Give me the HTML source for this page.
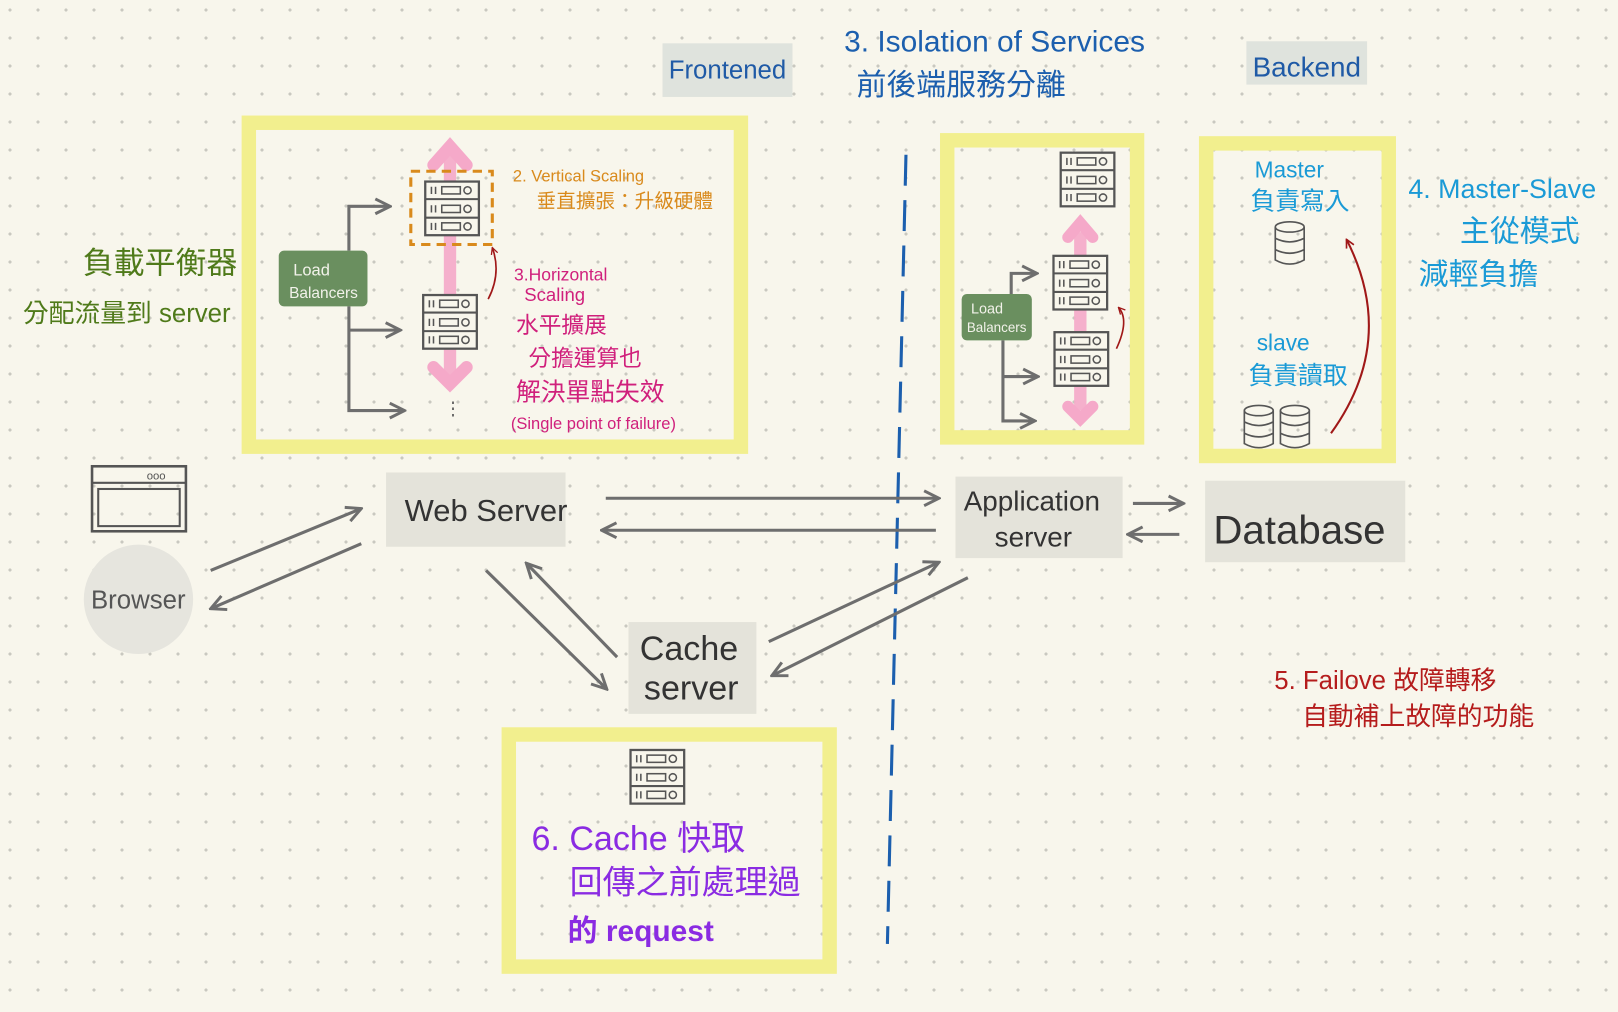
<!DOCTYPE html>
<html><head><meta charset="utf-8"><style>
html,body{margin:0;padding:0}
body{width:1618px;height:1012px;overflow:hidden;background-color:#f8f6ec;
background-image:radial-gradient(circle at 10px 10px,#c9c8c0 1.4px,transparent 1.8px);background-size:28px 28px;}
svg{position:absolute;left:0;top:0}
text{font-family:"Liberation Sans","Noto Sans CJK TC",sans-serif}
</style></head><body>
<svg width="1618" height="1012" viewBox="0 0 1568 981">
<defs>
<marker id="ah" viewBox="0 0 10 10" refX="9" refY="5" markerWidth="6" markerHeight="6" orient="auto"><path d="M1,1 L9,5 L1,9" fill="none" stroke="#6e6e6e" stroke-width="1.6"/></marker>
<marker id="ar" viewBox="0 0 10 10" refX="9" refY="5" markerWidth="5" markerHeight="5" orient="auto"><path d="M1,1 L9,5 L1,9" fill="none" stroke="#a01818" stroke-width="1.6"/></marker>
<g id="srv"><rect x="0" y="0" width="52" height="52" fill="#f8f6ec" stroke="#555" stroke-width="2.2"/><line x1="0" y1="17" x2="52" y2="17" stroke="#555" stroke-width="2"/><line x1="0" y1="35" x2="52" y2="35" stroke="#555" stroke-width="2"/>
<g stroke="#555" stroke-width="1.5" fill="none"><path d="M6 5v7M10 5v7M6 23v7M10 23v7M6 40v7M10 40v7"/><rect x="16" y="5" width="18" height="7"/><rect x="16" y="23" width="18" height="7"/><rect x="16" y="40" width="18" height="7"/><circle cx="41" cy="8.5" r="3.5"/><circle cx="41" cy="26.5" r="3.5"/><circle cx="41" cy="43.5" r="3.5"/></g></g>
<g id="db" fill="none" stroke="#555" stroke-width="1.6"><ellipse cx="15" cy="5" rx="14" ry="5"/><path d="M1 5v32q14 8 28 0V5M1 16q14 7 28 0M1 27q14 7 28 0"/></g>
</defs>

<rect x="642" y="42" width="126" height="52" fill="#dfe3dd"/>
<text x="648" y="76" font-size="25" fill="#1f5aa6">Frontened</text>
<rect x="1208" y="40" width="117" height="42" fill="#dfe3dd"/>
<text x="1214" y="74" font-size="27" fill="#1f5aa6">Backend</text>
<text x="818" y="50" font-size="29" fill="#1c5fae">3. Isolation of Services</text>
<text x="830" y="92" font-size="29" fill="#1c5fae">前後端服務分離</text>

<g fill="none" stroke="#f2ef8e" stroke-width="14">
<rect x="241" y="119" width="477" height="314"/>
<rect x="918" y="136" width="184" height="288"/>
<rect x="1169" y="139" width="177" height="303"/>
<rect x="493" y="712" width="311" height="225"/>
</g>

<path d="M436 150V365" stroke="#f5a9c9" stroke-width="12" opacity="0.9"/>
<path d="M420 160L436 142L452 160M420 356L436 372L452 356" stroke="#f5a9c9" stroke-width="12" fill="none" stroke-linecap="round"/>
<rect x="398" y="166" width="79" height="71" fill="none" stroke="#d98a1c" stroke-width="3" stroke-dasharray="9 6"/>
<use href="#srv" x="412" y="176"/>
<use href="#srv" x="410" y="286"/>
<text x="430" y="402" font-size="18" fill="#666">⋮</text>
<path d="M473 290Q486 265 477 240" stroke="#a01818" stroke-width="1.6" fill="none" marker-end="url(#ar)"/>
<rect x="270" y="243" width="86" height="54" rx="5" fill="#6a8f5f"/>
<text x="284" y="267" font-size="16" fill="#f2f2ea">Load</text>
<text x="280" y="289" font-size="15" fill="#f2f2ea">Balancers</text>
<g stroke="#6e6e6e" stroke-width="3" fill="none">
<path d="M338 243V200H378" marker-end="url(#ah)"/>
<path d="M338 297V398H392" marker-end="url(#ah)"/>
<path d="M338 320H388" marker-end="url(#ah)"/>
</g>
<text x="497" y="176" font-size="16" fill="#d98a1c">2. Vertical Scaling</text>
<text x="520" y="201" font-size="19" fill="#d98a1c">垂直擴張：升級硬體</text>
<text x="498" y="272" font-size="17" fill="#d0207c">3.Horizontal</text>
<text x="508" y="292" font-size="18" fill="#d0207c">Scaling</text>
<text x="500" y="323" font-size="22" fill="#d0207c">水平擴展</text>
<text x="512" y="355" font-size="22" fill="#d0207c">分擔運算也</text>
<text x="500" y="388" font-size="24" fill="#d0207c">解決單點失效</text>
<text x="495" y="416" font-size="16" fill="#d0207c">(Single point of failure)</text>

<text x="80" y="265" font-size="30" fill="#4f7a1a">負載平衡器</text>
<text x="22" y="312" font-size="25" fill="#4f7a1a">分配流量到 server</text>

<use href="#srv" x="1028" y="148"/>
<path d="M1047 225V398" stroke="#f5a9c9" stroke-width="12" opacity="0.9"/>
<path d="M1035 230L1047 216L1059 230M1035 394L1047 406L1059 394" stroke="#f5a9c9" stroke-width="11" fill="none" stroke-linecap="round"/>
<use href="#srv" x="1021" y="248"/>
<use href="#srv" x="1022" y="322"/>
<path d="M1082 338Q1095 310 1084 298" stroke="#a01818" stroke-width="1.6" fill="none" marker-end="url(#ar)"/>
<rect x="932" y="285" width="68" height="45" rx="5" fill="#6a8f5f"/>
<text x="941" y="304" font-size="14" fill="#f2f2ea">Load</text>
<text x="937" y="322" font-size="13" fill="#f2f2ea">Balancers</text>
<g stroke="#6e6e6e" stroke-width="3" fill="none">
<path d="M980 285V265H1005" marker-end="url(#ah)"/>
<path d="M972 330V408H1003" marker-end="url(#ah)"/>
<path d="M972 365H1006" marker-end="url(#ah)"/>
</g>

<text x="1216" y="172" font-size="22" fill="#1a9ad6">Master</text>
<text x="1212" y="203" font-size="24" fill="#1a9ad6">負責寫入</text>
<use href="#db" x="1235" y="215"/>
<text x="1218" y="340" font-size="22" fill="#1a9ad6">slave</text>
<text x="1210" y="372" font-size="24" fill="#1a9ad6">負責讀取</text>
<use href="#db" x="1205" y="393"/><use href="#db" x="1240" y="393"/>
<path d="M1290 420Q1355 330 1305 232" stroke="#a01818" stroke-width="2" fill="none" marker-end="url(#ar)"/>
<text x="1365" y="192" font-size="26" fill="#1a9ad6">4. Master-Slave</text>
<text x="1415" y="234" font-size="29" fill="#1a9ad6">主從模式</text>
<text x="1375" y="276" font-size="29" fill="#1a9ad6">減輕負擔</text>

<path d="M878 150L860 915" stroke="#1c5fae" stroke-width="3" stroke-dasharray="30 14"/>

<rect x="89" y="452" width="91" height="63" fill="none" stroke="#555" stroke-width="2.5"/>
<line x1="89" y1="468" x2="180" y2="468" stroke="#555" stroke-width="2"/>
<rect x="95" y="474" width="79" height="36" fill="none" stroke="#555" stroke-width="2"/>
<text x="142" y="465" font-size="11" fill="#555">ooo</text>
<circle cx="134" cy="581" r="53" fill="#e6e5de"/>
<text x="88" y="590" font-size="25" fill="#555">Browser</text>

<rect x="374" y="458" width="174" height="72" fill="#e4e3da"/>
<text x="392" y="505" font-size="30" fill="#333">Web Server</text>
<rect x="926" y="462" width="162" height="79" fill="#e4e3da"/>
<text x="934" y="495" font-size="27" fill="#333">Application</text>
<text x="964" y="530" font-size="27" fill="#333">server</text>
<rect x="1168" y="466" width="194" height="79" fill="#e4e3da"/>
<text x="1176" y="527" font-size="39" fill="#333">Database</text>
<rect x="609" y="603" width="124" height="89" fill="#e4e3da"/>
<text x="620" y="640" font-size="33" fill="#333">Cache</text>
<text x="624" y="678" font-size="33" fill="#333">server</text>

<g stroke="#6e6e6e" stroke-width="3" fill="none" marker-end="url(#ah)">
<path d="M204 553L350 493"/>
<path d="M350 527L204 590"/>
<path d="M587 483H910"/>
<path d="M907 514H583"/>
<path d="M1098 488H1147"/>
<path d="M1143 518H1093"/>
<path d="M471 553L588 668"/>
<path d="M598 637L510 546"/>
<path d="M745 622L910 545"/>
<path d="M938 560L748 655"/>
</g>

<use href="#srv" x="611" y="727"/>
<text x="515" y="824" font-size="33" fill="#8a2be2">6. Cache 快取</text>
<text x="552" y="866" font-size="32" fill="#8a2be2">回傳之前處理過</text>
<text x="550" y="912" font-size="29" fill="#8a2be2" font-weight="bold">的 request</text>

<text x="1235" y="668" font-size="25" fill="#b51c1c">5. Failove 故障轉移</text>
<text x="1262" y="703" font-size="25" fill="#b51c1c">自動補上故障的功能</text>
</svg>
</body></html>
